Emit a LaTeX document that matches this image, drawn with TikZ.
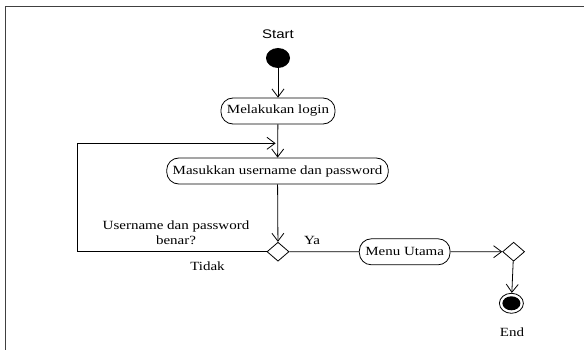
\documentclass[tikz,border=0pt]{standalone}
\usepackage{fontspec}
\setmainfont{Liberation Serif}[FakeStretch=1.2]
\setsansfont{Liberation Sans}[FakeStretch=1.2]
\usetikzlibrary{arrows.meta,shapes.geometric}
\begin{document}
\begin{tikzpicture}
  [x=1pt,y=1pt,line width=.8pt,>={Straight Barb[length=8pt,width=12pt]},
   activity/.style={draw,rectangle,rounded corners=12pt,minimum height=26pt,inner xsep=6pt,inner ysep=0pt,font=\fontsize{12.5}{14.5}\selectfont},
   branch/.style={draw,diamond,minimum width=22pt,minimum height=19pt,inner sep=0pt},
   txt/.style={font=\fontsize{12.5}{14.5}\selectfont,inner sep=0pt,align=center}]
  \useasboundingbox (0,0) rectangle (584,-350);
  \draw[line width=1.2pt,black!75] (5.7,-350) -- (5.7,-6.7) -- (584,-6.7);

  \node[txt,font=\sffamily\fontsize{12.5}{14.5}\selectfont] (starttxt) at (278,-34) {Start};
  \node[ellipse,fill=black,minimum width=24pt,minimum height=20pt,inner sep=0pt] (start) at (278,-58) {};
  \node[activity] (login) at (278,-111) {Melakukan login};
  \node[activity] (input) at (277.5,-171) {Masukkan username dan password};
  \node[branch] (cek) at (278,-251.7) {};
  \node[activity] (menu) at (404.7,-251.8) {Menu Utama};
  \node[branch] (merge) at (513.6,-251.7) {};
  \node[ellipse,draw,minimum width=24pt,minimum height=20pt,inner sep=0pt] (end) at (511.4,-303.3) {};
  \node[ellipse,fill=black,minimum width=18pt,minimum height=14pt,inner sep=0pt] (endin) at (end) {};
  \node[txt] (endtxt) at (512,-332.7) {End};
  \node[txt] (q) at (176,-233) {Username dan password\\benar?};
  \node[txt] (tidak) at (207.5,-266.7) {Tidak};
  \node[txt] (ya) at (312,-240.7) {Ya};
  \coordinate (loopa) at (77,-251.7);
  \coordinate (loopb) at (77,-143.3);
  \coordinate (loopc) at (275.6,-143.3);

  \foreach \from/\to in {start/login,login/input,input/cek,menu/merge,merge/end}
    \draw[->] (\from) -- (\to);
  \draw (cek) -- (menu);
  \draw[->] (cek.west) -- (loopa) -- (loopb) -- (loopc);

\end{tikzpicture}
\end{document}
